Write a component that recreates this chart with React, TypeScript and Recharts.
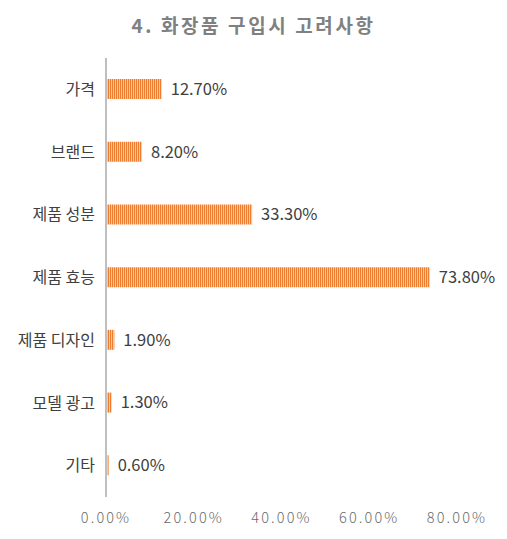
import React from "react";
import { BarChart, Bar, XAxis, YAxis, LabelList } from "recharts";

const categories = ["가격", "브랜드", "제품 성분", "제품 효능", "제품 디자인", "모델 광고", "기타"];
const values = [12.7, 8.2, 33.3, 73.8, 1.9, 1.3, 0.6];
const xTicks = [0, 20, 40, 60, 80];
const title = "4. 화장품 구입시 고려사항";

const data = categories.map((name, i) => ({ name, value: values[i] }));

const FONT = "'Noto Sans CJK KR', 'Noto Sans', sans-serif";

export default function App() {
  return (
    <div style={{ position: "absolute", left: 0, top: 0, width: 507, height: 539, background: "#fff", fontFamily: FONT }}>
      <div
        style={{
          position: "absolute",
          left: 0,
          top: 11,
          width: 507,
          textAlign: "center",
          fontSize: 19,
          fontWeight: 700,
          color: "#808080",
          letterSpacing: 2.6,
          lineHeight: "28px",
        }}
      >
        {title}
      </div>
      <BarChart
        width={507}
        height={539}
        data={data}
        layout="vertical"
        margin={{ top: 58, right: 50, bottom: 0, left: 0 }}
        barSize={20}
      >
        <defs>
          <pattern id="stripes" patternUnits="userSpaceOnUse" width="2" height="4">
            <rect x="0" y="0" width="1" height="4" fill="#ED7D31" />
            <rect x="1" y="0" width="1" height="4" fill="#F8C7A2" />
          </pattern>
        </defs>
        <XAxis
          type="number"
          domain={[0, 80]}
          ticks={xTicks}
          tickFormatter={(v: number) => `${v.toFixed(2)}%`}
          axisLine={false}
          tickLine={false}
          height={42}
          tickMargin={10}
          tick={{ fill: "#6a6a6a", fontSize: 14.5, fontFamily: FONT, fontWeight: 300, letterSpacing: 2.1 }}
        />
        <YAxis
          type="category"
          dataKey="name"
          width={106}
          tickLine={false}
          axisLine={{ stroke: "#BFBFBF", strokeWidth: 2 }}
          tickMargin={5}
          tick={{ fill: "#404040", fontSize: 16, fontFamily: FONT }}
        />
        <Bar dataKey="value" fill="url(#stripes)" isAnimationActive={false}>
          <LabelList
            dataKey="value"
            position="right"
            offset={9}
            formatter={(v: number) => `${v.toFixed(2)}%`}
            style={{ fill: "#404040", fontSize: 16.5, fontFamily: FONT }}
          />
        </Bar>
      </BarChart>
    </div>
  );
}
